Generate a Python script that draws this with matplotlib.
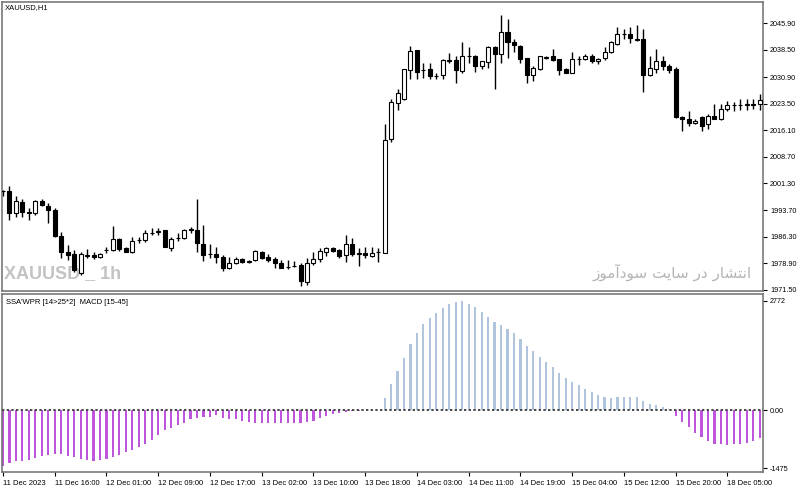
import numpy as np
import matplotlib
matplotlib.use("Agg")
import matplotlib.pyplot as plt
from matplotlib import font_manager

# --- data ---
opens = [1999.0, 1999.0, 1993.0, 1996.1, 1993.3, 1993.0, 1996.2, 1995.0, 1993.9, 1986.6,
         1982.2, 1981.6, 1976.2, 1981.0, 1981.3, 1980.7, 1982.6, 1982.7, 1985.7, 1983.2,
         1982.1, 1985.4, 1985.5, 1987.5, 1987.8, 1988.1, 1983.2, 1985.9, 1986.0, 1988.3,
         1988.3, 1984.4, 1981.5, 1981.6, 1980.8, 1977.6, 1979.0, 1980.1, 1979.4, 1979.9,
         1982.2, 1980.8, 1980.2, 1979.1, 1977.9, 1978.2, 1978.5, 1973.8, 1979.0, 1980.1,
         1982.2, 1983.3, 1982.7, 1981.3, 1984.3, 1981.6, 1981.8, 1981.1, 1982.1, 1981.9,
         2013.7, 2023.8, 2024.9, 2032.9, 2038.4, 2032.9, 2033.1, 2031.2, 2031.4, 2035.5,
         2035.7, 2032.5, 2036.8, 2036.8, 2034.0, 2035.1, 2039.2, 2037.5, 2043.4, 2040.6,
         2039.6, 2036.4, 2031.4, 2033.3, 2036.3, 2036.7, 2035.9, 2033.1, 2032.2, 2035.9,
         2036.1, 2036.8, 2035.4, 2036.4, 2037.9, 2040.1, 2042.9, 2042.9, 2041.7, 2041.5,
         2031.4, 2033.3, 2035.3, 2034.0, 2033.1, 2019.9, 2019.1, 2018.0, 2019.9, 2017.7,
         2020.0, 2019.3, 2021.9, 2023.0, 2023.1, 2023.2, 2023.3, 2023.3]
highs = [1999.5, 2000.4, 1997.6, 1996.9, 1994.4, 1996.7, 1996.9, 1995.8, 1994.4, 1987.8,
         1984.1, 1982.7, 1982.2, 1982.9, 1982.0, 1981.8, 1983.6, 1989.4, 1986.0, 1983.5,
         1986.3, 1986.3, 1988.3, 1988.8, 1988.8, 1988.3, 1986.3, 1987.4, 1988.5, 1989.1,
         1996.9, 1989.7, 1984.4, 1983.5, 1981.3, 1980.7, 1980.8, 1980.5, 1979.9, 1982.7,
         1982.5, 1981.6, 1980.7, 1979.9, 1979.9, 1979.7, 1979.0, 1980.4, 1982.1, 1983.2,
         1983.5, 1983.6, 1982.9, 1986.9, 1986.0, 1983.2, 1983.6, 1983.6, 1983.2, 2017.7,
         2024.7, 2027.7, 2033.3, 2039.6, 2038.5, 2034.8, 2035.0, 2032.0, 2036.1, 2037.6,
         2036.8, 2040.6, 2039.2, 2037.0, 2035.4, 2039.6, 2039.6, 2048.2, 2047.1, 2041.7,
         2039.8, 2036.4, 2034.0, 2036.8, 2036.8, 2038.9, 2036.1, 2033.6, 2037.8, 2036.7,
         2037.3, 2037.3, 2036.4, 2039.2, 2041.0, 2044.8, 2044.5, 2044.8, 2045.4, 2044.5,
         2036.7, 2038.9, 2036.7, 2034.5, 2033.7, 2020.0, 2021.4, 2019.1, 2020.0, 2020.5,
         2023.3, 2023.3, 2024.2, 2023.9, 2024.9, 2024.9, 2024.7, 2026.1]
lows = [1997.6, 1991.1, 1992.0, 1991.9, 1991.1, 1992.5, 1994.8, 1990.2, 1986.3, 1980.4,
        1979.9, 1976.6, 1975.7, 1980.4, 1980.1, 1980.4, 1981.9, 1982.5, 1982.5, 1982.0,
        1981.8, 1984.6, 1985.0, 1986.9, 1986.9, 1983.5, 1982.5, 1985.3, 1985.7, 1987.4,
        1982.2, 1979.7, 1980.4, 1979.0, 1976.9, 1977.3, 1978.8, 1979.1, 1979.0, 1979.7,
        1980.1, 1979.4, 1977.6, 1977.5, 1977.3, 1978.0, 1972.6, 1972.9, 1978.5, 1979.4,
        1981.0, 1982.1, 1980.5, 1979.4, 1981.1, 1978.2, 1980.4, 1980.7, 1979.4, 1981.8,
        2012.7, 2021.7, 2024.5, 2030.5, 2030.3, 2030.8, 2030.3, 2030.3, 2030.3, 2034.8,
        2029.2, 2032.2, 2035.0, 2032.3, 2033.1, 2033.6, 2027.7, 2035.0, 2036.4, 2038.0,
        2035.0, 2029.4, 2029.8, 2032.9, 2035.9, 2035.4, 2031.4, 2032.0, 2032.0, 2034.2,
        2035.7, 2035.0, 2034.5, 2035.7, 2037.6, 2039.8, 2041.5, 2040.4, 2041.0, 2026.9,
        2031.2, 2032.2, 2032.9, 2032.0, 2019.6, 2015.8, 2017.2, 2017.7, 2015.8, 2016.3,
        2019.1, 2018.9, 2021.4, 2021.4, 2021.7, 2021.7, 2022.1, 2021.7]
closes = [1999.2, 1993.0, 1996.2, 1993.3, 1993.1, 1996.2, 1995.3, 1993.7, 1986.6, 1982.2,
          1981.3, 1977.1, 1981.5, 1981.1, 1980.7, 1981.6, 1982.7, 1985.7, 1982.9, 1982.1,
          1985.3, 1985.5, 1987.4, 1987.4, 1988.0, 1983.6, 1985.7, 1986.0, 1988.3, 1988.4,
          1984.6, 1981.3, 1981.6, 1980.7, 1977.6, 1979.0, 1980.1, 1979.4, 1979.5, 1982.5,
          1980.4, 1979.9, 1979.0, 1977.7, 1978.0, 1978.3, 1974.0, 1979.0, 1980.1, 1982.5,
          1983.2, 1982.5, 1981.1, 1984.4, 1981.6, 1981.7, 1981.2, 1981.9, 1982.2, 2013.5,
          2024.1, 2026.6, 2033.1, 2038.1, 2032.3, 2032.8, 2031.1, 2031.3, 2035.6, 2035.6,
          2032.9, 2036.7, 2036.9, 2034.0, 2035.3, 2039.2, 2037.3, 2043.4, 2040.6, 2039.8,
          2036.1, 2031.4, 2033.4, 2036.7, 2036.4, 2035.7, 2032.9, 2032.2, 2036.1, 2036.0,
          2036.8, 2035.4, 2036.1, 2037.9, 2040.6, 2043.1, 2043.0, 2041.8, 2041.3, 2031.4,
          2033.4, 2035.4, 2034.0, 2032.9, 2019.7, 2019.1, 2018.2, 2018.8, 2017.4, 2020.2,
          2019.3, 2022.1, 2023.0, 2023.1, 2023.0, 2023.3, 2023.2, 2024.5]

macd = [-1420, -1345, -1302, -1287, -1261, -1219, -1176, -1143, -1118, -1126,
        -1160, -1186, -1244, -1269, -1287, -1269, -1244, -1201, -1143, -1075,
        -1009, -949, -848, -757, -638, -505, -444, -386, -318, -235,
        -192, -167, -167, -134, -192, -217, -235, -278, -303, -318,
        -318, -318, -318, -336, -336, -318, -336, -303, -269, -192,
        -151, -109, -67, -50, -34, -17, -8, -4, 5, 313,
        648, 984, 1322, 1683, 1953, 2180, 2331, 2457, 2584, 2684,
        2745, 2772, 2684, 2599, 2483, 2357, 2230, 2145, 2054, 1953,
        1801, 1632, 1489, 1337, 1211, 1095, 944, 817, 717, 623,
        540, 454, 371, 328, 313, 328, 328, 328, 328, 227,
        161, 126, 86, 17, -151, -303, -429, -570, -681, -782,
        -848, -865, -883, -865, -848, -823, -782, -696]

price_ticks = [2045.90, 2038.50, 2030.90, 2023.50, 2016.10, 2008.70,
               2001.30, 1993.70, 1986.30, 1978.90, 1971.50]
macd_ticks = [2772, 0, -1475]
macd_tick_labels = ['2772', '0.00', '-1475']
time_labels = ['11 Dec 2023', '11 Dec 16:00', '12 Dec 01:00', '12 Dec 09:00',
               '12 Dec 17:00', '13 Dec 02:00', '13 Dec 10:00', '13 Dec 18:00',
               '14 Dec 03:00', '14 Dec 11:00', '14 Dec 19:00', '15 Dec 04:00',
               '15 Dec 12:00', '15 Dec 20:00', '18 Dec 05:00']

watermark_fa = 'انتشار در سایت سودآموز'

# simple arabic-script shaping (matplotlib has no shaping / bidi)
FORMS = {
    'ا': ('\ufe8d', '\ufe8e'), 'آ': ('\ufe81', '\ufe82'),
    'د': ('\ufea9', '\ufeaa'), 'ر': ('\ufead', '\ufeae'),
    'ز': ('\ufeaf', '\ufeb0'), 'و': ('\ufeed', '\ufeee'),
    'ن': ('\ufee5', '\ufee6', '\ufee7', '\ufee8'),
    'ت': ('\ufe95', '\ufe96', '\ufe97', '\ufe98'),
    'ش': ('\ufeb5', '\ufeb6', '\ufeb7', '\ufeb8'),
    'س': ('\ufeb1', '\ufeb2', '\ufeb3', '\ufeb4'),
    'ی': ('\ufbfc', '\ufbfd', '\ufef3', '\ufef4'),
    'م': ('\ufee1', '\ufee2', '\ufee3', '\ufee4'),
}


def shape(s):
    out = []
    for k, ch in enumerate(s):
        f = FORMS.get(ch)
        if f is None:
            out.append(ch)
            continue
        prev = s[k - 1] if k > 0 else ''
        nxt = s[k + 1] if k + 1 < len(s) else ''
        jp = prev in FORMS and len(FORMS[prev]) == 4
        jn = len(f) == 4 and nxt in FORMS
        if jn:
            out.append(f[3] if jp else f[2])
        else:
            out.append(f[1] if jp else f[0])
    return ''.join(out)[::-1]


names = {f.name for f in font_manager.fontManager.ttflist}
small_font = 'Liberation Sans Narrow' if 'Liberation Sans Narrow' in names else 'Liberation Sans'
plt.rcParams['font.family'] = [small_font, 'DejaVu Sans']

o = np.array(opens)
h = np.array(highs)
l = np.array(lows)
c = np.array(closes)
x = np.arange(len(o))
up = c >= o

W, H = 800, 490
fig = plt.figure(figsize=(8, 4.9), dpi=100)
ax1 = fig.add_axes([2 / W, (H - 291) / H, 761 / W, 289 / H])
ax2 = fig.add_axes([2 / W, (H - 472) / H, 761 / W, 178 / H])

# candles
ax1.vlines(x, l, h, color='black', lw=1, zorder=2)
body_lo = np.minimum(o, c)
body_h = np.maximum(np.abs(c - o), 0.12)
ax1.bar(x, body_h, bottom=body_lo, width=0.62,
        color=np.where(up, 'white', 'black'), edgecolor='black', linewidth=0.8, zorder=3)
ax1.set_xlim(-0.15, 117.5)
ax1.set_ylim(1971.2, 2051.9)
ax1.set_xticks([])
ax1.yaxis.tick_right()
ax1.set_yticks(price_ticks)
ax1.set_yticklabels(['%.2f' % v for v in price_ticks])
ax1.tick_params(axis='y', length=3, width=0.8, pad=2, labelsize=5.2)

# histogram
cols = np.where(np.array(macd) >= 0, '#b0c4de', '#bf55dc')
ax2.bar(x, macd, width=0.33, color=cols, zorder=2)
ax2.axhline(0, color='#484848', lw=1.4, ls=(0, (1.2, 1.2)), zorder=3)
ax2.set_xlim(-0.15, 117.5)
ax2.set_ylim(-1570, 2940)
ax2.yaxis.tick_right()
ax2.set_yticks(macd_ticks)
ax2.set_yticklabels(macd_tick_labels)
ax2.tick_params(axis='y', length=3, width=0.8, pad=2, labelsize=5.2)
ax2.set_xticks(np.arange(0, len(x), 8))
ax2.set_xticklabels(time_labels)
ax2.tick_params(axis='x', length=3, width=0.8, pad=3, labelsize=5.5)
for lab in ax2.get_xticklabels():
    lab.set_ha('left')

for ax in (ax1, ax2):
    for sp in ax.spines.values():
        sp.set_color('#6e6e6e')
        sp.set_linewidth(1.1)

# texts
ax1.text(5 / W, 1 - 8 / H, 'XAUUSD,H1', transform=fig.transFigure,
         fontsize=5.5, va='center', ha='left')
ax1.text(4 / W, 1 - 274 / H, 'XAUUSD _ 1h', transform=fig.transFigure,
         fontsize=13, fontweight='bold', color='#c3c3c3', va='center', ha='left', zorder=1)
ax1.text(752 / W, 1 - 272 / H, shape(watermark_fa), transform=fig.transFigure,
         fontsize=11, color='#b4b4b4', va='center', ha='right', zorder=1,
         family=['DejaVu Sans'])
ax2.text(6 / W, 1 - 302 / H, "SSA'WPR [14>25*2]  MACD [15-45]", transform=fig.transFigure,
         fontsize=5.5, va='center', ha='left')

fig.savefig('out.png', dpi=100, facecolor='white')
